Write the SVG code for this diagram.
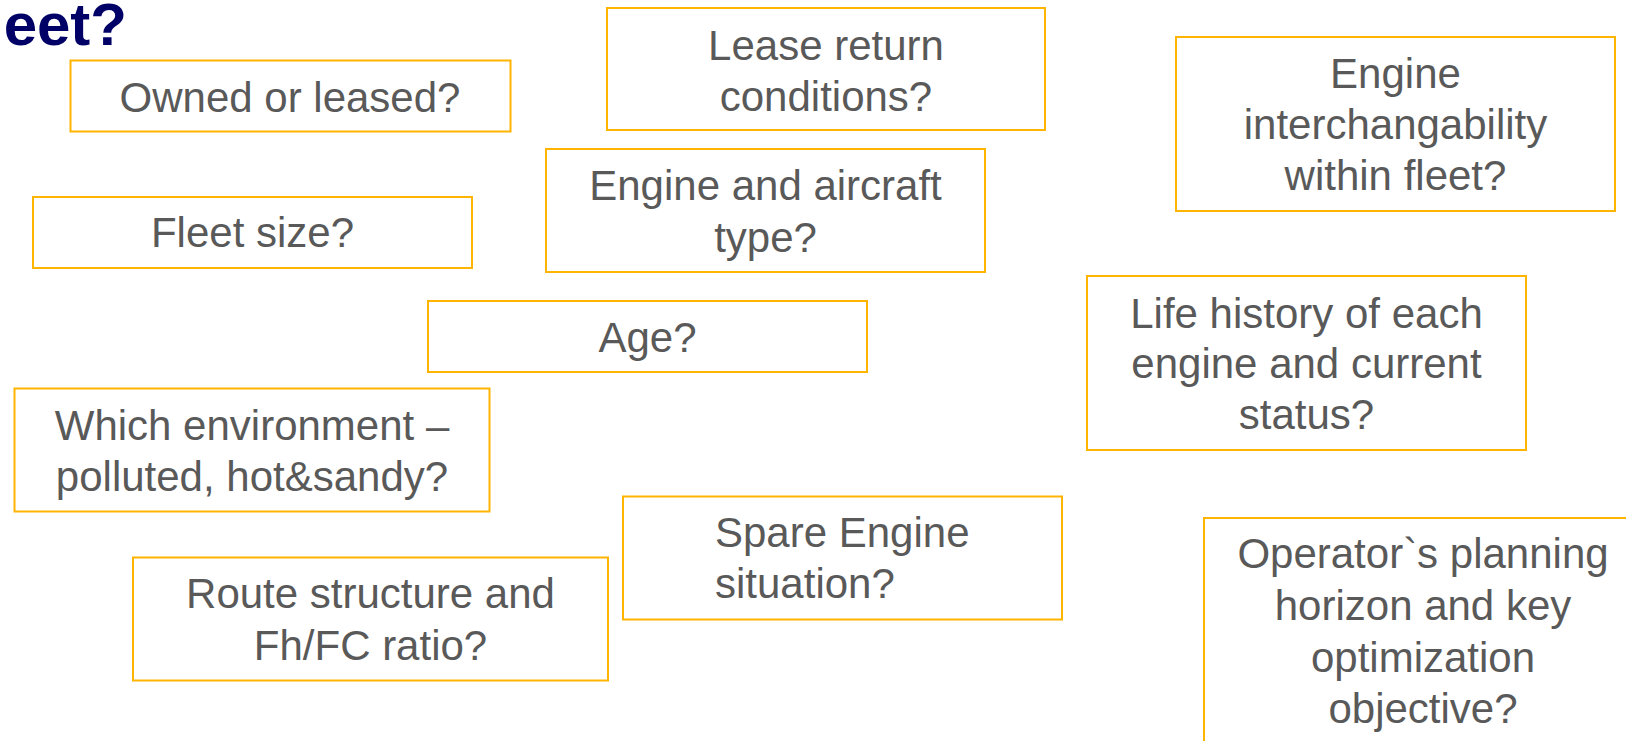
<svg xmlns="http://www.w3.org/2000/svg" width="1626" height="741" viewBox="0 0 1626 741">
  <style>
    .box { fill: #ffffff; stroke: #FFB400; stroke-width: 2; }
    .lbl { font-family: "Liberation Sans", Arial, sans-serif; font-size: 42px; fill: #595959; text-anchor: middle; }
    .left { text-anchor: start; }
    .title { font-family: "Liberation Sans", Arial, sans-serif; font-size: 60px; font-weight: bold; fill: #000066; text-anchor: end; }
  </style>
  <rect x="0" y="0" width="1626" height="741" fill="#ffffff"/>

  <text class="title" x="127" y="45">eet?</text>

  <g id="connectors"/>

  <g id="owned">
    <rect class="box" x="70.5" y="60.5" width="440" height="71"/>
    <text class="lbl" x="290" y="112">Owned or leased?</text>
  </g>

  <g id="fleet-size">
    <rect class="box" x="33" y="197" width="439" height="71"/>
    <text class="lbl" x="252.5" y="247">Fleet size?</text>
  </g>

  <g id="lease-return">
    <rect class="box" x="607" y="8" width="438" height="122"/>
    <text class="lbl" x="826" y="60">Lease return</text>
    <text class="lbl" x="826" y="111">conditions?</text>
  </g>

  <g id="engine-aircraft">
    <rect class="box" x="546" y="149" width="439" height="123"/>
    <text class="lbl" x="765.5" y="200">Engine and aircraft</text>
    <text class="lbl" x="765.5" y="252">type?</text>
  </g>

  <g id="interchangeability">
    <rect class="box" x="1176" y="37" width="439" height="174"/>
    <text class="lbl" x="1395.5" y="88">Engine</text>
    <text class="lbl" x="1395.5" y="139">interchangability</text>
    <text class="lbl" x="1395.5" y="190">within fleet?</text>
  </g>

  <g id="age">
    <rect class="box" x="428" y="301" width="439" height="71"/>
    <text class="lbl" x="647.5" y="352">Age?</text>
  </g>

  <g id="life-history">
    <rect class="box" x="1087" y="276" width="439" height="174"/>
    <text class="lbl" x="1306.5" y="328">Life history of each</text>
    <text class="lbl" x="1306.5" y="378">engine and current</text>
    <text class="lbl" x="1306.5" y="429">status?</text>
  </g>

  <g id="environment">
    <rect class="box" x="14.5" y="388.5" width="475" height="123"/>
    <text class="lbl" x="252" y="440">Which environment –</text>
    <text class="lbl" x="252" y="491">polluted, hot&amp;sandy?</text>
  </g>

  <g id="route">
    <rect class="box" x="133" y="557.5" width="475" height="123"/>
    <text class="lbl" x="370.5" y="608">Route structure and</text>
    <text class="lbl" x="370.5" y="660">Fh/FC ratio?</text>
  </g>

  <g id="spare-engine">
    <rect class="box" x="623" y="496.5" width="439" height="123"/>
    <text class="lbl left" x="715" y="547">Spare Engine</text>
    <text class="lbl left" x="715" y="598">situation?</text>
  </g>

  <g id="planning">
    <rect class="box" x="1204" y="518" width="439" height="240"/>
    <text class="lbl" x="1423" y="568">Operator`s planning</text>
    <text class="lbl" x="1423" y="620">horizon and key</text>
    <text class="lbl" x="1423" y="672">optimization</text>
    <text class="lbl" x="1423" y="723">objective?</text>
  </g>
</svg>
